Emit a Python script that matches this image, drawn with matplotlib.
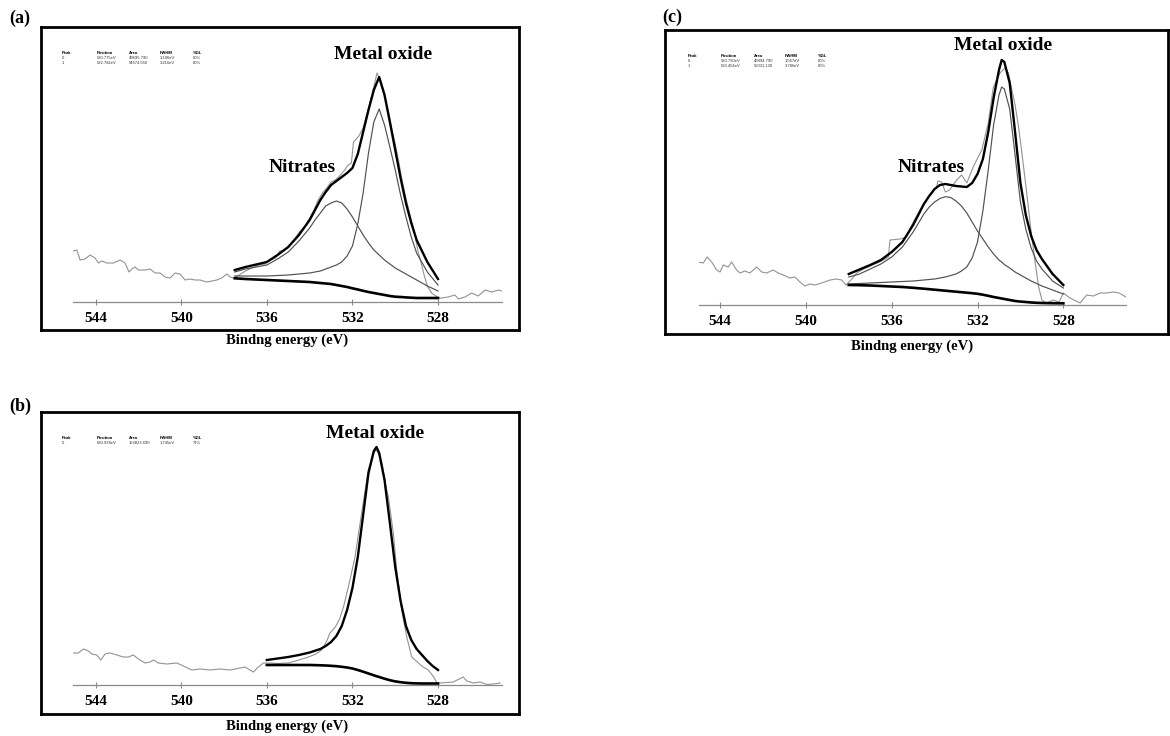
import matplotlib.pyplot as plt

plt.rcParams['font.family'] = ['Liberation Serif', 'DejaVu Serif']

W, H = 1170, 736
ticks = [544, 540, 536, 532, 528]

# ---- panel (a): raw spectrum
a_raw_e = [545.04, 544.88, 544.73, 544.50, 544.26, 544.03, 543.87, 543.71, 543.48, 543.17,
           542.86, 542.63, 542.44, 542.31, 542.16, 542.00, 541.69, 541.46, 541.22, 540.99,
           540.76, 540.52, 540.29, 540.06, 539.82, 539.59, 539.36, 539.12, 538.81, 538.57,
           538.34, 538.11, 537.87, 537.72, 537.57,
           537.3, 537.0, 536.7, 536.4, 536.1, 535.85, 535.6, 535.4, 535.15, 534.9,
           534.7, 534.45, 534.2, 534.0, 533.8, 533.6, 533.4, 533.2, 533.0, 532.8,
           532.6, 532.4, 532.2, 532.05, 531.95, 531.7, 531.5, 531.3, 531.1, 530.95,
           530.85, 530.75, 530.6, 530.45, 530.3, 530.15, 530.0, 529.85, 529.7, 529.5,
           529.3, 529.1, 528.95, 528.8, 528.65, 528.5, 528.3, 528.1, 527.95,
           527.83, 527.52, 527.21, 527.05, 526.74, 526.43, 526.12, 525.80, 525.49, 525.18, 525.01]
a_raw_i = [51, 52, 42, 43, 47, 44, 39, 41, 39, 39,
           42, 39, 30, 33, 35, 32, 32, 33, 29, 29,
           25, 24, 29, 28, 22, 23, 22, 22, 20, 21,
           22, 24, 28, 25, 24,
           27, 31, 34, 37, 38, 42, 44, 51, 52, 58,
           63, 71, 76, 84, 92, 102, 109, 114, 120, 122,
           126, 131, 137, 139, 160, 166, 174, 190, 206, 220,
           229, 224, 214, 202, 188, 172, 158, 142, 124, 104,
           86, 70, 52, 40, 27, 16, 9, 6, 4,
           4, 5, 7, 3, 5, 9, 6, 12, 10, 12, 11]

# ---- panel (a): fitted curves
a_fit_e = [537.5, 537.0, 536.5, 536.0, 535.5, 535.0, 534.5, 534.0, 533.75, 533.5,
           533.25, 533.0, 532.75, 532.5, 532.25, 532.0, 531.75, 531.5, 531.25, 531.0,
           530.75, 530.5, 530.25, 530.0, 529.75, 529.5, 529.25, 529.0, 528.5, 528.0]
a_env = [32, 35, 37.5, 40, 47, 55, 67, 82, 92, 102,
         110, 117, 121, 125, 129, 134, 148, 170, 192, 212,
         225, 207, 180, 152, 124, 99, 79, 62, 40, 23]
a_nitrate = [30, 33, 35, 37, 43, 50, 61, 74, 82, 89,
             96, 99, 101, 99, 93, 85, 76, 67, 59, 52,
             47, 42, 38, 34, 31, 28, 25, 22, 16, 11]
a_oxide = [26, 26, 26, 26, 26.5, 27, 28, 29, 30, 31,
           33, 35, 37, 40, 46, 56, 78, 109, 149, 180,
           193, 177, 155, 132, 107, 85, 65, 49, 30, 17]
a_bg = [23.7, 23, 22.5, 22, 21.5, 21, 20.5, 20, 19.5, 19,
        18.5, 18, 17, 16, 15, 13.7, 12.5, 11.2, 10, 9,
        8, 7, 6, 5.3, 5, 4.6, 4.3, 4, 4, 4]

# ---- panel (b): raw spectrum
b_raw_e = [545.04, 544.81, 544.57, 544.34, 544.18, 543.95, 543.76, 543.56, 543.33, 543.01,
           542.71, 542.47, 542.24, 542.00, 541.69, 541.46, 541.30, 541.07, 540.68, 540.21,
           539.90, 539.51, 539.12, 538.65, 538.19, 537.72, 537.25, 537.02, 536.79, 536.63,
           536.40, 536.16, 535.85,
           535.5, 535.0, 534.5, 534.06, 533.7, 533.44, 533.2, 533.05, 532.8, 532.6,
           532.42, 532.19, 531.88, 531.57, 531.26, 531.02, 530.88, 530.75, 530.63, 530.45,
           530.32, 530.09, 529.93, 529.7, 529.46, 529.23, 528.92, 528.7, 528.45, 528.2, 528.05,
           527.91, 527.29, 526.82, 526.66, 526.35, 526.04, 525.72, 525.42, 525.10]
b_raw_i = [32, 32, 36, 34, 31, 30, 25, 31, 32, 30,
           28, 28, 30, 26, 22, 23, 25, 22, 21, 22,
           19, 15, 16, 15, 16, 15, 17, 18, 15, 13,
           18, 22, 22,
           21.5, 22, 25, 28, 31, 35, 44, 52, 58, 66,
           78, 98, 128, 172, 215, 232, 235, 230, 223, 200,
           188, 152, 115, 75, 48, 28, 22, 18, 15, 8, 2,
           2, 3, 8, 4, 2, 3, 0.5, 1, 2]

# ---- panel (b): fitted curves
b_fit_e = [536.0, 535.5, 535.0, 534.5, 534.0, 533.5, 533.25, 533.0, 532.75, 532.5,
           532.25, 532.0, 531.75, 531.5, 531.25, 531.0, 530.875, 530.75, 530.5, 530.25,
           530.0, 529.75, 529.5, 529.25, 529.0, 528.75, 528.5, 528.25, 528.0]
b_env = [25, 26.5, 28, 30, 32.5, 36, 39, 43, 49, 59,
         75, 97, 128, 170, 212, 234, 238, 232, 205, 162,
         118, 84, 59, 45, 36, 30, 24, 19, 15]
b_bg = [20, 20, 20, 20, 20, 19.7, 19.5, 19.2, 18.8, 18.2,
        17.5, 16.5, 15, 13.3, 11.5, 9.7, 8.8, 8, 6.3, 4.8,
        3.6, 2.8, 2.2, 1.8, 1.6, 1.5, 1.5, 1.5, 1.5]

# ---- panel (c): raw spectrum
c_raw_e = [545.02, 544.78, 544.60, 544.39, 544.16, 544.00, 543.85, 543.62, 543.46, 543.23,
           543.07, 542.84, 542.61, 542.29, 542.06, 541.83, 541.52, 541.29, 541.05, 540.74,
           540.51, 540.28, 540.04, 539.81, 539.58, 539.26, 538.87, 538.56, 538.33, 538.13,
           537.9, 537.63, 537.3, 536.9, 536.55, 536.15, 536.08, 535.6, 535.3, 535.07,
           534.68, 534.29, 533.9, 533.85, 533.67, 533.5, 533.3, 532.97, 532.74, 532.5,
           532.2, 532.04, 531.8, 531.5, 531.26, 530.95, 530.72, 530.56, 530.4, 530.25,
           530.1, 529.95, 529.75, 529.55, 529.35, 529.15, 529.0, 528.8, 528.47, 528.2,
           528.0, 527.69, 527.22, 526.91, 526.6, 526.29, 525.98, 525.67, 525.4, 525.08]
c_raw_i = [43, 42, 48, 43, 35, 33, 40, 38, 43, 35,
           32, 34, 32, 38, 33, 32, 35, 32, 30, 27,
           28, 23, 19, 21, 20, 22, 25, 26, 25, 20,
           25, 32, 36, 40, 43, 48, 65, 66, 68, 80,
           95, 108, 118, 124, 123, 113, 115, 125, 130, 122,
           138, 145, 155, 182, 218, 232, 237, 232, 215, 200,
           180, 155, 120, 82, 48, 18, 5, 2, 5, 3,
           12, 7, 2, 10, 9, 12, 12, 13, 12, 8]

# ---- panel (c): fitted curves
c_fit_e = [538.0, 537.5, 537.0, 536.5, 536.0, 535.5, 535.0, 534.5, 534.25, 534.0,
           533.75, 533.5, 533.25, 533.0, 532.75, 532.5, 532.25, 532.0, 531.75, 531.5,
           531.25, 531.0, 530.875, 530.75, 530.5, 530.25, 530.0, 529.75, 529.5, 529.25,
           529.0, 528.5, 528.0]
c_env = [31, 35.5, 40, 45, 53, 63, 80, 101, 109, 116,
         120, 121, 120, 119, 118.5, 118, 122, 131, 146, 173,
         207, 235, 245, 243, 222, 173, 122, 90, 69, 55,
         46, 31, 20]
c_nitrate = [28, 31, 36, 41, 48, 58, 73, 91, 98, 103,
             106.5, 108.3, 107.5, 104, 99, 92, 83, 74, 66, 58,
             51, 45, 43, 40.5, 37, 33, 30, 27, 24, 21.5,
             19, 15, 11]
c_oxide = [21, 21.5, 22, 22.5, 23, 23.5, 24, 25, 25.5, 26,
           27, 28, 29.5, 31, 34, 38, 47, 63, 94, 135,
           180, 210, 218, 216, 196, 150, 103, 76, 57, 44,
           36, 24, 17]
c_bg = [20, 19.8, 19.5, 19, 18.5, 18, 17.2, 16.3, 15.8, 15.3,
        14.8, 14.3, 13.8, 13.3, 12.8, 12.3, 11.8, 11.2, 10.3, 9.2,
        8, 7, 6.5, 6, 5, 4, 3.4, 3, 2.5, 2.2,
        2, 1.8, 1.7]

# tiny fit tables printed inside each frame
table_head = ['Peak', 'Position', 'Area', 'FWHM', '%GL']
a_table = [['0', '530.775eV', '49695.790', '1.196eV', '80%'],
           ['1', '532.784eV', '54674.550', '3.216eV', '80%']]
b_table = [['0', '530.938eV', '163823.690', '1.745eV', '71%']]
c_table = [['0', '530.790eV', '49494.790', '1.567eV', '80%'],
           ['1', '533.454eV', '56031.130', '3.786eV', '80%']]


def rect(x0, y0, x1, y1):
    return [x0 / W, 1 - y1 / H, (x1 - x0) / W, (y1 - y0) / H]


def draw_panel(fig, box, axis, elim, raw, fit_e, env, bg, comps, notes,
               letter, table, table_xy, label_top):
    # outer frame
    frame = fig.add_axes(rect(*box))
    frame.set_xticks([])
    frame.set_yticks([])
    for s in frame.spines.values():
        s.set_linewidth(2.0)

    x0, x1, y_axis = axis
    top = box[1]
    ax = fig.add_axes(rect(x0, top, x1, y_axis))
    ax.patch.set_alpha(0)
    ax.set_xlim(elim)
    ax.set_ylim(0, y_axis - top)
    for side in ['top', 'right', 'left']:
        ax.spines[side].set_visible(False)
    ax.spines['bottom'].set_color('#8a8a8a')
    ax.spines['bottom'].set_linewidth(0.9)
    ax.set_yticks([])
    ax.set_xticks(ticks, [str(t) for t in ticks], fontsize=11, fontweight='bold')
    ax.tick_params(axis='x', direction='inout', length=5, width=0.8,
                   color='#8a8a8a', pad=5)
    ax.set_xlabel('Bindng energy (eV)', fontsize=10.5, fontweight='bold')
    ax.xaxis.set_label_coords(0.5, (y_axis - label_top) / (y_axis - top))

    ax.plot(raw[0], raw[1], color='#939393', lw=0.8, zorder=2)
    for c in comps:
        ax.plot(fit_e, c, color='#505050', lw=0.85, zorder=3)
    ax.plot(fit_e, bg, color='black', lw=1.9, zorder=4)
    ax.plot(fit_e, env, color='black', lw=1.7, zorder=4)

    for txt, e, i in notes:
        ax.text(e, i, txt, ha='center', va='center', fontsize=14, fontweight='bold')

    fig.text(letter[1] / W, 1 - letter[2] / H, letter[0], ha='center', va='center',
             fontsize=13, fontweight='bold')

    cols, ys = table_xy
    for cx, head in zip(cols, table_head):
        fig.text(cx / W, 1 - ys[0] / H, head, fontsize=3, fontweight='bold',
                 family='Liberation Sans', va='center')
    for row, ry in zip(table, ys[1:]):
        for cx, val in zip(cols, row):
            fig.text(cx / W, 1 - ry / H, val, fontsize=3, family='Liberation Sans',
                     va='center', color='#333333')


fig = plt.figure(figsize=(W / 100, H / 100), dpi=100)

draw_panel(fig, (41, 27, 519, 330), (73, 502, 302), (545.06, 525.01),
           (a_raw_e, a_raw_i), a_fit_e, a_env, a_bg, [a_nitrate, a_oxide],
           [('Metal oxide', 530.57, 247), ('Nitrates', 534.37, 135)],
           ('(a)', 20, 18), a_table, ([62, 97, 129, 160, 193], [53, 58, 63]), 334)

draw_panel(fig, (41, 412, 519, 714), (73, 502, 685), (545.06, 525.01),
           (b_raw_e, b_raw_i), b_fit_e, b_env, b_bg, [],
           [('Metal oxide', 530.94, 252)],
           ('(b)', 20, 406), b_table, ([62, 97, 129, 160, 193], [438, 442.5]), 720)

draw_panel(fig, (665, 30, 1168, 334), (699, 1126, 305), (544.98, 525.08),
           (c_raw_e, c_raw_i), c_fit_e, c_env, c_bg, [c_nitrate, c_oxide],
           [('Metal oxide', 530.81, 259), ('Nitrates', 534.18, 138)],
           ('(c)', 672, 17), c_table, ([688, 721, 754, 785, 818], [56, 61, 66]), 340)

fig.savefig('out.png', dpi=100)
